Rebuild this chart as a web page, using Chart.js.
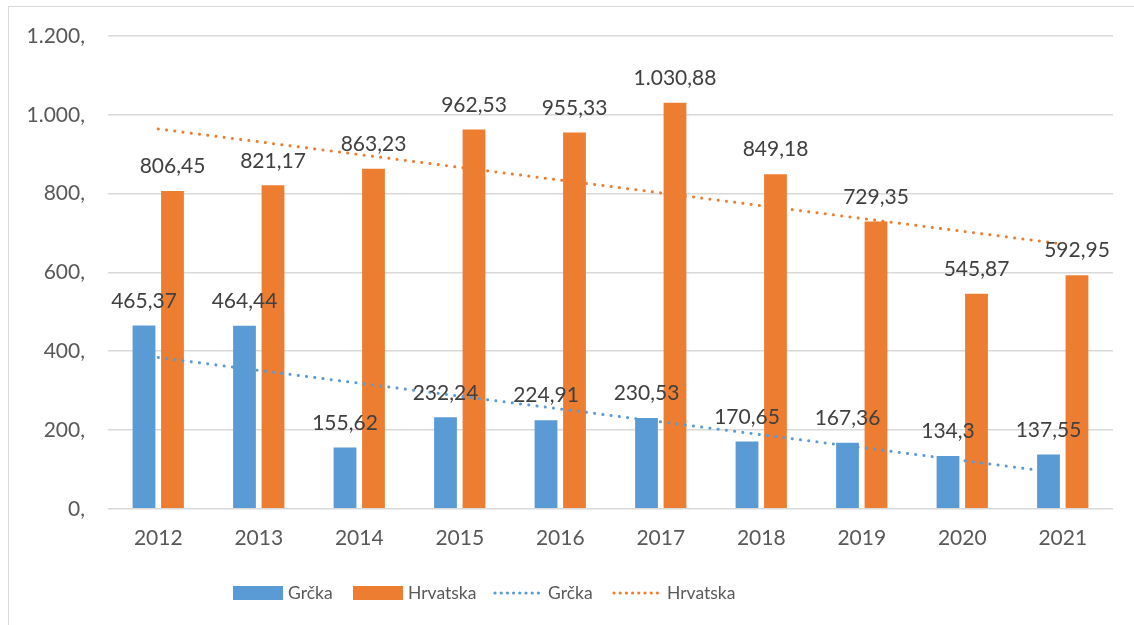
<!DOCTYPE html>
<html>
<head>
<meta charset="utf-8">
<script src="https://cdn.jsdelivr.net/npm/chart.js@4.4.1/dist/chart.umd.min.js"></script>
<style>
  html, body { margin: 0; padding: 0; background: #fff; }
  #wrap { position: relative; width: 1134px; height: 625px; }
  #frame { position: absolute; left: 8px; top: 6px; right: -2px; bottom: -2px; border: 1px solid #d9d9d9; }
</style>
</head>
<body>
<div id="wrap">
  <div id="frame"></div>
  <canvas id="chart" width="1134" height="625"></canvas>
</div>
<script>
let years = ["2012", "2013", "2014", "2015", "2016", "2017", "2018", "2019", "2020", "2021"];
let grcka = [465.37, 464.44, 155.62, 232.24, 224.91, 230.53, 170.65, 167.36, 134.3, 137.55];
let hrvatska = [806.45, 821.17, 863.23, 962.53, 955.33, 1030.88, 849.18, 729.35, 545.87, 592.95];
// linear trend, start and end values only
let grckaTrend = [384, null, null, null, null, null, null, null, null, 90];
let hrvatskaTrend = [964, null, null, null, null, null, null, null, null, 672];
let yTicks = [0, 200, 400, 600, 800, 1000, 1200];

const BLUE = "#5b9bd5";
const ORANGE = "#ed7d31";
const FONT = "Lato, 'Open Sans', sans-serif";

function fmt(v) {
    let parts = String(v).split(".");
    let whole = parts[0].replace(/\B(?=(\d{3})+(?!\d))/g, ".");
    return parts.length > 1 ? whole + "," + parts[1] : whole;
}

const barLabels = {
    id: "barLabels",
    afterDatasetsDraw(chart) {
        let ctx = chart.ctx;
        ctx.save();
        ctx.font = "21px " + FONT;
        ctx.fillStyle = "#404040";
        ctx.textAlign = "center";
        ctx.textBaseline = "bottom";
        [0, 1].forEach(i => {
            let meta = chart.getDatasetMeta(i);
            meta.data.forEach((bar, j) => {
                let v = chart.data.datasets[i].data[j];
                ctx.fillText(fmt(v), bar.x, bar.y - 14);
            });
        });
        ctx.restore();
    }
};

// legend row under the axis: boxes for bars, dotted strokes for trends
let legendX = [233, 353, 493, 612];
const bottomLegend = {
    id: "bottomLegend",
    afterDraw(chart) {
        let ctx = chart.ctx;
        let y = 593;
        ctx.save();
        ctx.font = "17.5px " + FONT;
        ctx.textBaseline = "middle";
        chart.data.datasets.forEach((ds, i) => {
            let x = legendX[i];
            if (ds.type === "line") {
                ctx.fillStyle = ds.borderColor;
                for (let dx = 2; dx < 50; dx += 6.2) {
                    ctx.beginPath();
                    ctx.arc(x + dx, y, 1.6, 0, Math.PI * 2);
                    ctx.fill();
                }
            } else {
                ctx.fillStyle = ds.backgroundColor;
                ctx.fillRect(x, y - 7, 50, 14);
            }
            ctx.fillStyle = "#595959";
            ctx.fillText(ds.label, x + 55, y);
        });
        ctx.restore();
    }
};

new Chart(document.getElementById("chart"), {
    type: "bar",
    data: {
        labels: years,
        datasets: [
            { label: "Grčka", data: grcka, backgroundColor: BLUE, order: 2,
              categoryPercentage: 0.567, barPercentage: 0.8 },
            { label: "Hrvatska", data: hrvatska, backgroundColor: ORANGE, order: 2,
              categoryPercentage: 0.567, barPercentage: 0.8 },
            { type: "line", label: "Grčka", data: grckaTrend, borderColor: BLUE, borderWidth: 3,
              borderDash: [0.1, 8.2], borderCapStyle: "round", pointRadius: 0, spanGaps: true, order: 1 },
            { type: "line", label: "Hrvatska", data: hrvatskaTrend, borderColor: ORANGE, borderWidth: 3,
              borderDash: [0.1, 8.2], borderCapStyle: "round", pointRadius: 0, spanGaps: true, order: 1 }
        ]
    },
    options: {
        responsive: false,
        animation: false,
        layout: { padding: { left: 0, right: 21, top: 36, bottom: 57 } },
        plugins: {
            tooltip: { enabled: false },
            legend: { display: false }
        },
        scales: {
            x: {
                grid: { display: false, drawTicks: false },
                border: { display: false },
                ticks: { font: { family: FONT, size: 21 }, color: "#595959", padding: 17 }
            },
            y: {
                min: 0,
                max: 1200,
                afterFit(scale) { scale.width = 108; },
                afterBuildTicks(scale) { scale.ticks = yTicks.map(v => ({ value: v })); },
                grid: { color: "#d9d9d9", lineWidth: 1.5, drawTicks: false },
                border: { display: false },
                ticks: {
                    font: { family: FONT, size: 21 },
                    color: "#595959",
                    padding: 23,
                    callback: v => fmt(v) + ","
                }
            }
        }
    },
    plugins: [barLabels, bottomLegend]
});
</script>
</body>
</html>
